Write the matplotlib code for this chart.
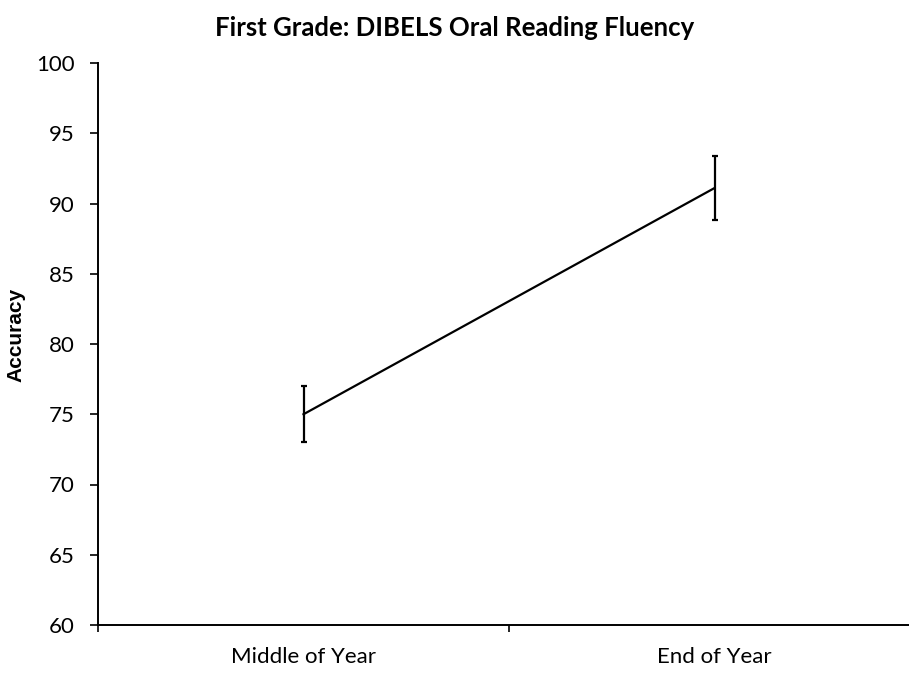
import matplotlib
matplotlib.use('Agg')
import matplotlib.pyplot as plt

# ── Data ─────────────────────────────────────────────────────────────────────
categories = ['Middle of Year', 'End of Year']
accuracy   = [75.0, 91.1]
errors     = [2.0, 2.3]
y_ticks    = [60, 65, 70, 75, 80, 85, 90, 95, 100]

plt.rcParams['font.family'] = ['Lato', 'DejaVu Sans']

fig = plt.figure(figsize=(9.09, 6.73), dpi=100)
# axes extends a little past the right edge, as in the cropped reference
ax = fig.add_axes([98 / 909, 1 - 625 / 673, 822 / 909, 562 / 673])

x = list(range(len(categories)))
ax.errorbar(x, accuracy, yerr=errors, color='black', linewidth=1.6,
            elinewidth=1.6, capsize=2.5, capthick=1.6)

ax.set_xlim(-0.5, len(categories) - 0.5)
ax.set_ylim(60, 100)
ax.set_yticks(y_ticks)
ax.set_yticklabels([str(t) for t in y_ticks], fontsize=16)

# category labels between boundary tick marks (Excel style)
ax.set_xticks([-0.5, 0.5, 1.5])
ax.set_xticklabels([])
ax.set_xticks(x, minor=True)
ax.set_xticklabels(categories, minor=True, fontsize=16)
ax.tick_params(axis='x', which='minor', length=0, pad=16)
ax.tick_params(axis='x', which='major', length=5, width=1.2, direction='out')
ax.tick_params(axis='y', length=6, width=1.2, direction='out', pad=11)

for side in ['top', 'right']:
    ax.spines[side].set_visible(False)
for side in ['left', 'bottom']:
    ax.spines[side].set_linewidth(1.4)

ax.set_ylabel('Accuracy', fontsize=15, fontweight='bold',
              family=['Liberation Sans', 'DejaVu Sans'])
ax.yaxis.set_label_coords(-73 / 822, 0.517)
fig.text(0.5, 1 - 28 / 673, 'First Grade: DIBELS Oral Reading Fluency',
         ha='center', va='center', fontsize=18.5, fontweight='bold')

fig.savefig('out.png', dpi=100, facecolor='white')
